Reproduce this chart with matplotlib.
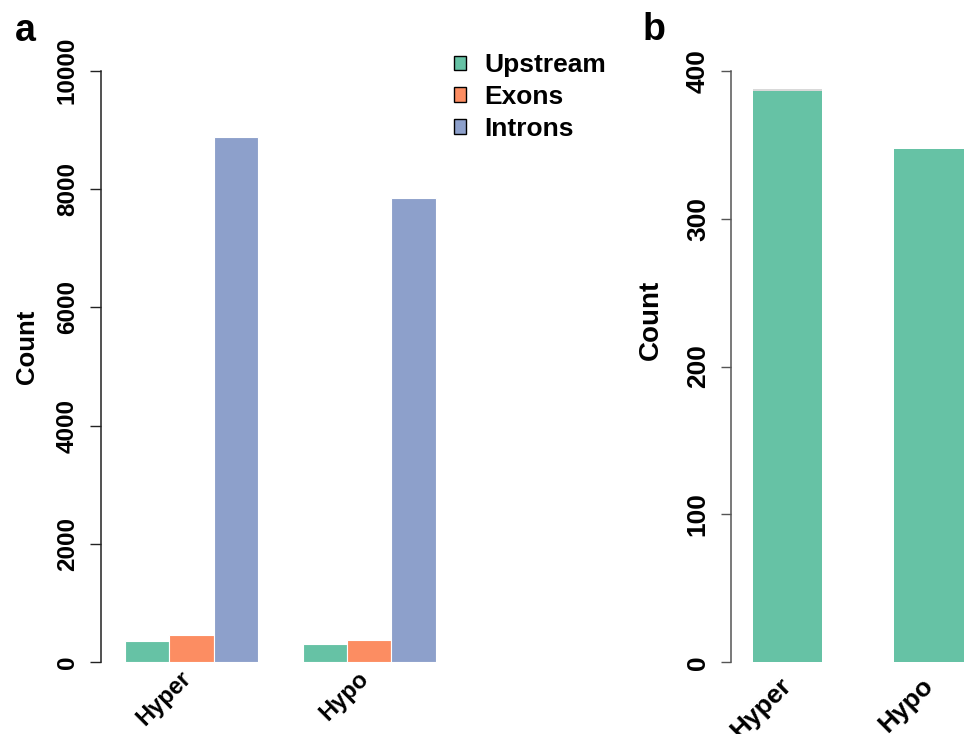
import matplotlib
matplotlib.use("Agg")
import matplotlib.pyplot as plt
from matplotlib.patches import Patch
from matplotlib.transforms import ScaledTranslation
import numpy as np

plt.rcParams['font.family'] = ['Liberation Sans', 'DejaVu Sans']
plt.rcParams['font.weight'] = 'bold'

# ---------------- data ----------------
groups = ["Hyper", "Hypo"]
regions = ["Upstream", "Exons", "Introns"]
upstream_a = [360, 314]
exons_a = [456, 382]
introns_a = [8884, 7843]
yticks_a = [0, 2000, 4000, 6000, 8000, 10000]

counts_b = [386, 347]
top_b = [1.5, 0]
yticks_b = [0, 100, 200, 300, 400]

colors = ["#66c2a5", "#fc8d62", "#8da0cb"]

W, H = 964, 734
fig = plt.figure(figsize=(W / 100, H / 100), dpi=100)


def rect(x0, y0, x1, y1):
    # pixel box (top-left origin) -> figure fraction
    return [x0 / W, 1 - y1 / H, (x1 - x0) / W, (y1 - y0) / H]


def shift_labels(labels, dx_px, dy_px):
    for lab in labels:
        lab.set_transform(lab.get_transform() +
                          ScaledTranslation(dx_px / 100, dy_px / 100, fig.dpi_scale_trans))


# ---------------- panel a ----------------
ax = fig.add_axes(rect(101, 70.7, 445, 662.3))
u = 44.4  # px per bar unit
series = [upstream_a, exons_a, introns_a]
ngroup = len(groups)
nser = len(series)
for gi in range(ngroup):
    for si in range(nser):
        left = 1 + gi * (nser + 1) + si
        ax.bar(left, series[si][gi], width=1, align='edge', color=colors[si],
               edgecolor='white', linewidth=0.8)
ax.set_xlim(1 - 24 / u, 1 + (445 - 125) / u)
ax.set_ylim(0, 10000)
for s in ['top', 'right', 'bottom']:
    ax.spines[s].set_visible(False)
ax.spines['left'].set_linewidth(1.1)
ax.spines['left'].set_color('#222222')
ax.set_yticks(yticks_a)
ax.set_yticklabels([str(v) for v in yticks_a], rotation=90, va='center',
                   fontsize=17.5, fontweight='bold')
ax.tick_params(axis='y', length=8, width=1, pad=8, color='#222222')
centers = [1 + gi * (nser + 1) + nser / 2 for gi in range(ngroup)]
ax.set_xticks(centers)
ax.set_xticklabels(groups, rotation=45, ha='right', va='center',
                   rotation_mode='anchor', fontsize=17, fontweight='bold')
ax.tick_params(axis='x', length=0, pad=9)
shift_labels(ax.get_xticklabels(), -4, 0)
fig.text(27 / W, 1 - 347 / H, "Count", rotation=90, ha='center', va='center',
         fontsize=18.5, fontweight='bold')

handles = [Patch(facecolor=c, edgecolor='black', linewidth=1) for c in colors]
fig.legend(handles, regions, loc='upper left',
           bbox_to_anchor=(454 / W, 1 - 53 / H), bbox_transform=fig.transFigure,
           frameon=False, prop={'weight': 'bold', 'size': 19},
           handlelength=0.45, handleheight=0.45, handletextpad=0.7,
           labelspacing=0.3, borderpad=0, borderaxespad=0)

fig.text(25 / W, 1 - 31 / H, "a", ha='center', va='center', fontsize=27,
         fontweight='bold')

# ---------------- panel b ----------------
bx = fig.add_axes(rect(730.7, 70.7, 964, 662.3))
ub = 69.6
gap = 72 / ub + 1
pos = np.arange(len(groups)) * gap
bx.bar(pos, counts_b, width=1, color=colors[0], edgecolor='none')
bx.bar(pos, top_b, width=1, bottom=counts_b, color='#d9d9d9', edgecolor='none')
bx.set_xlim(-0.5 - 22 / ub, -0.5 - 22 / ub + (964 - 730.7) / ub)
bx.set_ylim(0, 400)
for s in ['top', 'right', 'bottom']:
    bx.spines[s].set_visible(False)
bx.spines['left'].set_linewidth(1.1)
bx.spines['left'].set_color('#555555')
bx.set_yticks(yticks_b)
bx.set_yticklabels([str(v) for v in yticks_b], rotation=90, va='center',
                   fontsize=19, fontweight='bold')
bx.tick_params(axis='y', length=7.5, width=1, pad=7.5, color='#555555')
bx.set_xticks(pos)
bx.set_xticklabels(groups, rotation=45, ha='right', va='center',
                   rotation_mode='anchor', fontsize=19, fontweight='bold')
bx.tick_params(axis='x', length=0, pad=14)
shift_labels(bx.get_xticklabels(), 0, 0)
fig.text(651 / W, 1 - 320 / H, "Count", rotation=90, ha='center', va='center',
         fontsize=20, fontweight='bold')
fig.text(654 / W, 1 - 30 / H, "b", ha='center', va='center', fontsize=27,
         fontweight='bold')

fig.savefig("out.png", dpi=100, facecolor='white')
